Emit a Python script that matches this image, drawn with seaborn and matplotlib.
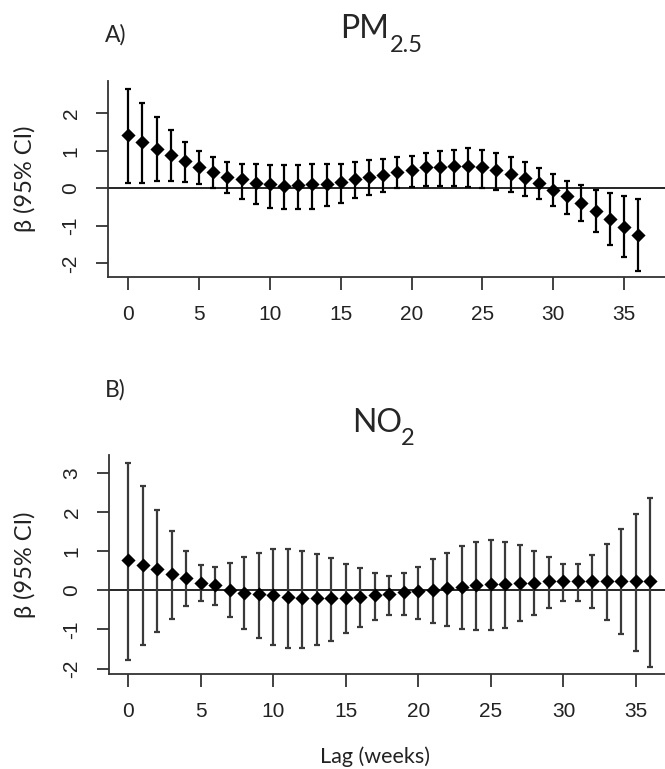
import numpy as np
import pandas as pd
import matplotlib
matplotlib.use("Agg")
import matplotlib.pyplot as plt
import seaborn as sns

lags = list(range(37))
pm_beta = [1.42, 1.24, 1.04, 0.88, 0.72, 0.56, 0.44, 0.31, 0.24, 0.14, 0.11, 0.06, 0.08,
           0.11, 0.11, 0.18, 0.24, 0.31, 0.35, 0.43, 0.48, 0.56, 0.56, 0.60, 0.60, 0.56,
           0.48, 0.39, 0.27, 0.14, -0.03, -0.20, -0.40, -0.61, -0.82, -1.02, -1.23]
pm_upper = [2.65, 2.28, 1.90, 1.56, 1.24, 1.00, 0.83, 0.69, 0.66, 0.66, 0.62, 0.62, 0.62,
            0.66, 0.66, 0.66, 0.70, 0.75, 0.78, 0.83, 0.86, 0.95, 1.00, 1.03, 1.08, 1.03,
            0.95, 0.83, 0.70, 0.54, 0.37, 0.20, 0.08, -0.03, -0.12, -0.20, -0.28]
pm_lower = [0.15, 0.15, 0.20, 0.20, 0.17, 0.12, 0.00, -0.13, -0.29, -0.42, -0.51, -0.54, -0.54,
            -0.54, -0.46, -0.38, -0.25, -0.18, -0.10, 0.00, 0.03, 0.07, 0.07, 0.07, 0.03, 0.00,
            -0.04, -0.10, -0.21, -0.29, -0.46, -0.68, -0.88, -1.17, -1.50, -1.83, -2.21]
no2_beta = [0.77, 0.66, 0.54, 0.43, 0.32, 0.20, 0.13, 0.01, -0.06, -0.09, -0.12, -0.17, -0.20,
            -0.20, -0.20, -0.20, -0.17, -0.12, -0.09, -0.05, -0.02, 0.02, 0.07, 0.10, 0.14, 0.17,
            0.17, 0.20, 0.20, 0.24, 0.24, 0.24, 0.24, 0.24, 0.24, 0.24, 0.24]
no2_upper = [3.27, 2.67, 2.06, 1.52, 1.01, 0.64, 0.60, 0.71, 0.86, 0.97, 1.06, 1.06, 1.01,
             0.94, 0.83, 0.68, 0.57, 0.45, 0.37, 0.45, 0.60, 0.80, 0.97, 1.13, 1.24, 1.29,
             1.24, 1.17, 1.01, 0.86, 0.68, 0.68, 0.91, 1.20, 1.58, 1.96, 2.37]
no2_lower = [-1.77, -1.39, -1.06, -0.72, -0.41, -0.27, -0.38, -0.67, -0.99, -1.21, -1.39, -1.47, -1.47,
             -1.39, -1.29, -1.09, -0.94, -0.75, -0.64, -0.64, -0.72, -0.83, -0.90, -0.98, -1.02, -1.02,
             -0.95, -0.79, -0.64, -0.46, -0.27, -0.27, -0.46, -0.75, -1.12, -1.54, -1.96]

x_ticks = [0, 5, 10, 15, 20, 25, 30, 35]
pm_yticks = [-2, -1, 0, 1, 2]
no2_yticks = [-2, -1, 0, 1, 2, 3]

sns.set_theme(style="ticks")
plt.rcParams['font.family'] = ['Liberation Sans', 'DejaVu Sans']

W, H = 665, 769
fig = plt.figure(figsize=(W / 100, H / 100), dpi=100)


def fx(px):
    return px / W


def fy(py):
    return 1 - py / H


def panel(rect_px, beta, lower, upper, yticks, xlim, ylim, barcolor):
    l, t, r, b = rect_px
    ax = fig.add_axes([fx(l), fy(b), fx(r) - fx(l), fy(t) - fy(b)])
    df = pd.DataFrame({"lag": lags, "beta": beta, "lower": lower, "upper": upper})
    ax.axhline(0, color="black", lw=1.2, zorder=1)
    ax.errorbar(df["lag"], df["beta"],
                yerr=[df["beta"] - df["lower"], df["upper"] - df["beta"]],
                fmt="none", ecolor=barcolor, elinewidth=1.6, capsize=2.0, capthick=1.6, zorder=2)
    sns.scatterplot(data=df, x="lag", y="beta", marker="D", color="black", s=52,
                    edgecolor="black", linewidth=0, ax=ax, zorder=3)
    ax.set_xlim(*xlim)
    ax.set_ylim(*ylim)
    ax.set_xticks(x_ticks)
    ax.set_yticks(yticks)
    ax.set_yticklabels([str(v) for v in yticks])
    for lab in ax.get_yticklabels():
        lab.set_rotation(90)
        lab.set_va("center")
    ax.tick_params(axis="both", labelsize=15, length=9, width=1.3, colors="#333333",
                   labelcolor="#222222", pad=11)
    for s in ["top", "right"]:
        ax.spines[s].set_visible(False)
    for s in ["left", "bottom"]:
        ax.spines[s].set_linewidth(1.3)
        ax.spines[s].set_color("#333333")
    ax.set_xlabel("")
    ax.set_ylabel("β (95% CI)", fontsize=17, family=["Lato", "DejaVu Sans"], color="#222222")
    ax.yaxis.set_label_coords((36 - l) / (r - l), 0.5)
    return ax


ax_a = panel((108.3, 80.7, 665, 277.3), pm_beta, pm_lower, pm_upper, pm_yticks,
             (-1.41, 37.9), (-2.37, 2.87), "black")
ax_b = panel((109.3, 455, 665, 674), no2_beta, no2_lower, no2_upper, no2_yticks,
             (-1.31, 37.0), (-2.14, 3.47), "#3a3a3a")

ax_b.set_xlabel("Lag (weeks)", fontsize=15.5, family=["Lato", "DejaVu Sans"], color="#222222")
ax_b.xaxis.set_label_coords((374.5 - 109.3) / (665 - 109.3), (674 - 746) / (674 - 455))

tfont = ["Lato", "DejaVu Sans"]
fig.text(fx(105), fy(41.7), "A)", fontsize=16.5, family=tfont, ha="left", va="baseline")
fig.text(fx(340), fy(38.3), "PM", fontsize=23, family=tfont, ha="left", va="baseline")
fig.text(fx(390), fy(51.7), "2.5", fontsize=17, family=tfont, ha="left", va="baseline")
fig.text(fx(105), fy(397), "B)", fontsize=16.5, family=tfont, ha="left", va="baseline")
fig.text(fx(351.7), fy(431.7), "NO", fontsize=23, family=tfont, ha="left", va="baseline")
fig.text(fx(401), fy(445), "2", fontsize=17, family=tfont, ha="left", va="baseline")

fig.savefig("out.png", dpi=100, facecolor="white")
